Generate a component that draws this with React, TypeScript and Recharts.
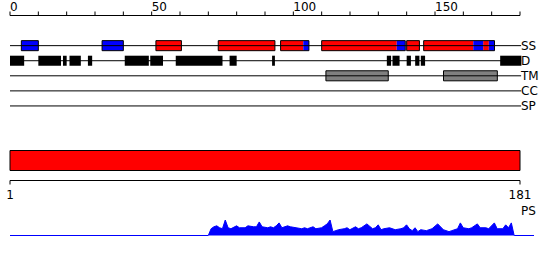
import {
  Area,
  AreaChart,
  ComposedChart,
  ReferenceArea,
  ReferenceLine,
  XAxis,
  YAxis,
} from "recharts";

const rowLabels = ["SS", "D", "TM", "CC", "SP"];
const topTicks = [0, 10, 20, 30, 40, 50, 60, 70, 80, 90, 100, 110, 120, 130, 140, 150, 160, 170, 180];
const topLabelled = [0, 50, 100, 150];
const seqTicks = [1, 181];

// secondary structure
const helixRanges = [
  [51.5, 60.5], [73.5, 93.5], [95.5, 103.5], [110, 136.5], [140, 144.5], [146, 163.5], [167, 169],
];
const strandRanges = [
  [4, 10], [32.5, 40], [103.5, 105.5], [136.5, 139.5], [163.5, 167], [169, 171],
];
// disorder
const disorderRanges = [
  [0, 5], [10, 18], [18.7, 20], [21, 25], [27.5, 29], [40.5, 49], [49.5, 54], [58.5, 75],
  [77.5, 80], [92.5, 93.5], [133, 134.5], [135, 137.5], [140, 141.5], [143, 144.5],
  [145, 146.5], [173, 180.5],
];
// transmembrane
const tmRanges = [
  [111.5, 133.5], [153, 172],
];

const psPositions = [
  1, 71, 72, 73, 74, 75, 76, 77, 78, 79, 81, 82, 84, 85, 87, 88, 89, 90, 92, 93,
  94, 95, 96, 97, 99, 100, 102, 104, 105, 106, 108, 109, 111, 112, 113, 114, 115, 117, 119, 120,
  121, 123, 124, 125, 127, 129, 130, 131, 132, 133, 135, 137, 139, 140, 141, 142, 143, 144, 145, 146,
  148, 150, 152, 154, 156, 157, 159, 160, 161, 163, 164, 166, 167, 169, 170, 172, 173, 174, 175, 176,
  177, 178, 179, 186,
];
const psScores = [
  0, 0, 7, 9, 10, 8, 7, 16, 8, 7, 10, 8, 8, 10, 9, 9, 14, 9, 8, 9,
  8, 10, 13, 8, 10, 9, 8, 7, 8, 7, 9, 7, 8, 10, 12, 16, 4, 6, 7, 8,
  6, 9, 7, 8, 12, 7, 8, 11, 6, 7, 8, 6, 7, 8, 11, 7, 5, 8, 4, 6,
  5, 7, 12, 6, 4, 5, 7, 13, 8, 7, 8, 12, 8, 8, 7, 13, 7, 7, 7, 11,
  8, 13, 0, 0,
];

const psData = psPositions.map((pos, i) => ({ pos, ps: psScores[i] }));
const rowData = rowLabels.map((label, i) => ({ label, row: i, pos: topTicks[topTicks.length - 1] }));
const seqData = seqTicks.map((pos) => ({ pos, v: 1 }));

// merge touching helix/strand pieces into outlined blocks
const ssBlocks = [...helixRanges, ...strandRanges]
  .slice()
  .sort((a, b) => a[0] - b[0])
  .reduce((acc: number[][], r) => {
    const last = acc[acc.length - 1];
    if (last && Math.abs(last[1] - r[0]) < 0.01) last[1] = r[1];
    else acc.push([r[0], r[1]]);
    return acc;
  }, []);

const HALF = 1 / 3;
const FONT = "DejaVu Sans";

const TopTick = (props: any) => {
  const { x, payload } = props;
  if (!topLabelled.includes(payload.value)) return <g />;
  return (
    <text x={x} y={10.5} fontSize={12} fill="#000" textAnchor="start" fontFamily={FONT}>
      {payload.value}
    </text>
  );
};

const RowTick = (props: any) => {
  const { x, y, payload } = props;
  return (
    <text x={x} y={y} dy={4.5} fontSize={12} fill="#000" textAnchor="start" fontFamily={FONT}>
      {rowLabels[payload.value]}
    </text>
  );
};

export default function App() {
  return (
    <div
      style={{
        position: "fixed",
        left: 0,
        top: 0,
        width: 550,
        height: 260,
        background: "#fff",
        fontFamily: FONT,
      }}
    >
      {/* FEATURE ROWS */}
      <div style={{ position: "absolute", left: 0, top: 0 }}>
        <ComposedChart width={550} height={116} data={rowData} margin={{ top: 0, right: 0, left: 10, bottom: 0 }}>
          <XAxis
            type="number"
            dataKey="pos"
            orientation="top"
            domain={[0, 180]}
            ticks={topTicks}
            interval={0}
            height={15.5}
            tickSize={4}
            stroke="#000"
            tick={<TopTick />}
            allowDataOverflow
          />
          <YAxis
            type="number"
            dataKey="row"
            orientation="right"
            domain={[-2, 14 / 3]}
            ticks={[0, 1, 2, 3, 4]}
            interval={0}
            reversed
            width={30}
            axisLine={false}
            tickLine={false}
            tickSize={0}
            tickMargin={1}
            tick={<RowTick />}
            allowDataOverflow
          />

          {rowLabels.map((_, i) => (
            <ReferenceLine
              key={"row" + i}
              segment={[{ x: 0, y: i }, { x: 180.4, y: i }]}
              stroke="#000"
              strokeWidth={1}
              ifOverflow="visible"
            />
          ))}

          {helixRanges.map((r, i) => (
            <ReferenceArea key={"h" + i} x1={r[0]} x2={r[1]} y1={-HALF} y2={HALF} fill="#ff0000" fillOpacity={1} stroke="none" />
          ))}
          {strandRanges.map((r, i) => (
            <ReferenceArea key={"s" + i} x1={r[0]} x2={r[1]} y1={-HALF} y2={HALF} fill="#0000ff" fillOpacity={1} stroke="none" />
          ))}
          {ssBlocks.map((r, i) => (
            <ReferenceArea key={"b" + i} x1={r[0]} x2={r[1]} y1={-HALF} y2={HALF} fill="none" stroke="#000" strokeWidth={1} />
          ))}

          {disorderRanges.map((r, i) => (
            <ReferenceArea key={"d" + i} x1={r[0]} x2={r[1]} y1={1 - HALF} y2={1 + HALF} fill="#000" fillOpacity={1} stroke="none" ifOverflow="visible" />
          ))}

          {tmRanges.map((r, i) => (
            <ReferenceArea key={"t" + i} x1={r[0]} x2={r[1]} y1={2 - HALF} y2={2 + HALF} fill="#808080" fillOpacity={1} stroke="#000" strokeWidth={1} />
          ))}
        </ComposedChart>
      </div>

      {/* SEQUENCE BAR */}
      <div style={{ position: "absolute", left: 0, top: 145 }}>
        <ComposedChart width={550} height={62} data={seqData} margin={{ top: 5.5, right: 30, left: 10, bottom: 0 }}>
          <XAxis
            type="number"
            dataKey="pos"
            domain={[1, 181]}
            ticks={seqTicks}
            interval={0}
            height={26.5}
            tickSize={4}
            tickMargin={6}
            stroke="#000"
            tick={{ fill: "#000", fontSize: 12, fontFamily: FONT }}
            allowDataOverflow
          />
          <YAxis type="number" dataKey="v" domain={[0, 1]} hide allowDataOverflow />
          <ReferenceArea x1={1} x2={181} y1={1 / 3} y2={1} fill="#ff0000" fillOpacity={1} stroke="#000" strokeWidth={1} />
        </ComposedChart>
      </div>

      <div style={{ position: "absolute", left: 521, top: 204, fontSize: 12, lineHeight: "14px" }}>PS</div>

      {/* PS PROFILE */}
      <div style={{ position: "absolute", left: 0, top: 219 }}>
        <AreaChart width={550} height={17} data={psData} margin={{ top: 1, right: 16, left: 10, bottom: 0.5 }}>
          <XAxis type="number" dataKey="pos" domain={[1, 186]} hide />
          <YAxis type="number" domain={[0, 16]} hide />
          <Area
            type="linear"
            dataKey="ps"
            stroke="#0000ff"
            strokeWidth={1}
            fill="#0000ff"
            fillOpacity={1}
            dot={false}
            activeDot={false}
            isAnimationActive={false}
          />
        </AreaChart>
      </div>
    </div>
  );
}
